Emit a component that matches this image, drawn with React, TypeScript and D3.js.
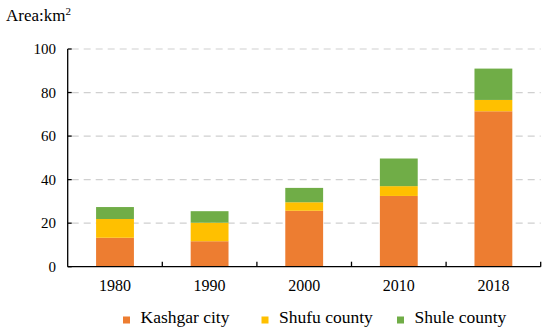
import React from "react";
import * as d3 from "d3";

const years = ["1980", "1990", "2000", "2010", "2018"];
const kashgar = [13.3, 11.7, 25.7, 32.5, 71.4];
const shufu = [8.6, 8.5, 3.9, 4.5, 5.2];
const shule = [5.5, 5.3, 6.6, 12.7, 14.4];
const seriesNames = ["Kashgar city", "Shufu county", "Shule county"];
const colors = ["#ED7D31", "#FFC000", "#70AD47"];
const yTicks = [0, 20, 40, 60, 80, 100];

export default function App() {
  const W = 550, H = 331;
  const left = 67.7, right = 540.7, top = 49, bottom = 266.7;
  const x = d3.scaleBand<string>().domain(years).range([left, right]).paddingInner(0.6).paddingOuter(0.3);
  const y = d3.scaleLinear().domain([0, 100]).range([bottom, top]);
  const rows = years.map((yr, i) => ({ year: yr, a: kashgar[i], b: shufu[i], c: shule[i] }));
  const stack = d3.stack<any>().keys(["a", "b", "c"])(rows);
  const step = (right - left) / years.length;
  const font = "Liberation Serif";
  const legendX = [123, 261.5, 397];
  return (
    <svg width={W} height={H} style={{ position: "absolute", left: 0, top: 0, background: "#fff", fontFamily: "'Liberation Serif', serif" }}>
      <text x={6} y={21} fontSize={17} fill="#000" fontFamily={font}>
        Area:km<tspan dy={-6} fontSize={11}>2</tspan>
      </text>
      {yTicks.filter(t => t > 0).map(t => (
        <line key={t} x1={left + 4} x2={right} y1={y(t)} y2={y(t)} stroke="#D0D0D0" strokeWidth={1.2} strokeDasharray="7,5" />
      ))}
      {stack.map((s, si) => (
        <g key={si}>
          {s.map((d, i) => (
            <rect key={i} x={x(years[i])!} width={x.bandwidth()} y={y(d[1])} height={y(d[0]) - y(d[1])} fill={colors[si]} />
          ))}
        </g>
      ))}
      <line x1={left} x2={left} y1={top} y2={bottom} stroke="#000" strokeWidth={1.3} />
      <line x1={left} x2={right} y1={bottom} y2={bottom} stroke="#000" strokeWidth={1.3} />
      {yTicks.map(t => (
        <g key={t}>
          <line x1={left} x2={left + 4} y1={y(t)} y2={y(t)} stroke="#000" strokeWidth={1.3} />
          <text x={56} y={y(t) + 5} fontSize={15} textAnchor="end" fill="#000" fontFamily={font}>{t}</text>
        </g>
      ))}
      {years.map((yr, i) => (
        <g key={yr}>
          <line x1={left + step * (i + 1)} x2={left + step * (i + 1)} y1={bottom} y2={bottom - 5} stroke="#000" strokeWidth={1.3} />
          <text x={x(yr)! + x.bandwidth() / 2} y={291} fontSize={16} textAnchor="middle" fill="#000" fontFamily={font}>{yr}</text>
        </g>
      ))}
      {seriesNames.map((n, i) => (
        <g key={n}>
          <rect x={legendX[i]} y={316.5} width={7} height={7} fill={colors[i]} />
          <text x={legendX[i] + 17.5} y={323} fontSize={17.5} fill="#000" fontFamily={font}>{n}</text>
        </g>
      ))}
    </svg>
  );
}
